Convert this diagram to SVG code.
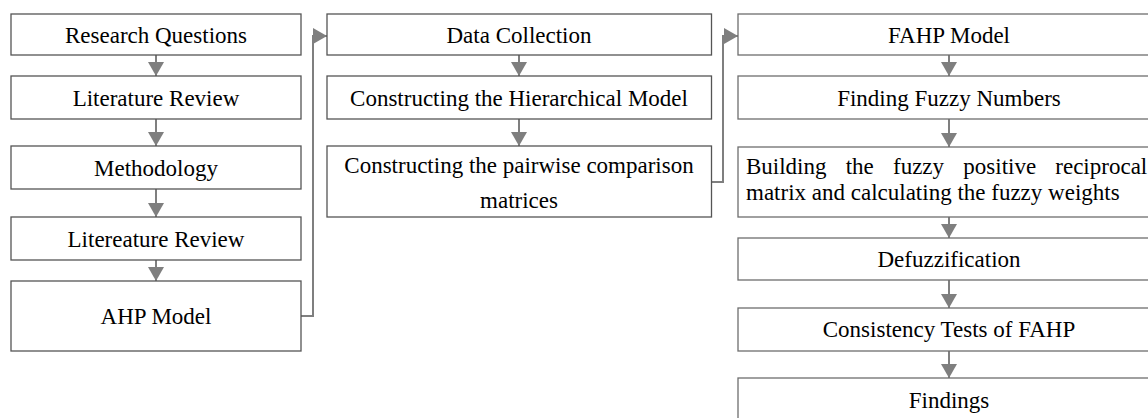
<svg xmlns="http://www.w3.org/2000/svg" width="1148" height="418" viewBox="0 0 1148 418">
<style>
  .box { fill: #ffffff; stroke: #555555; stroke-width: 1.3; }
  .box3 { fill: #ffffff; stroke: #6e6e6e; stroke-width: 1.3; }
  .t { font-family: "Liberation Serif", "Times New Roman", Times, serif; font-size: 23px; fill: #000000; text-anchor: middle; }
  .tl { font-family: "Liberation Serif", "Times New Roman", Times, serif; font-size: 23px; fill: #000000; }
  .c { fill: none; stroke: #7f7f7f; stroke-width: 2; marker-end: url(#ah); }
</style>
<defs>
  <marker id="ah" viewBox="0 0 14 16" refX="14" refY="8" markerWidth="14" markerHeight="16" markerUnits="userSpaceOnUse" orient="auto">
    <path d="M0,0 L14,8 L0,16 Z" fill="#7f7f7f"/>
  </marker>
</defs>
<rect width="1148" height="418" fill="#ffffff"/>

<g id="connectors">
  <path class="c" d="M156,55 V76"/>
  <path class="c" d="M156,119 V146"/>
  <path class="c" d="M156,189 V217"/>
  <path class="c" d="M156,260 V281"/>
  <path class="c" d="M519,55 V76"/>
  <path class="c" d="M519,119 V146"/>
  <path class="c" d="M949,55 V76"/>
  <path class="c" d="M949,119 V147"/>
  <path class="c" d="M949,217 V238"/>
  <path class="c" d="M949,280 V308"/>
  <path class="c" d="M949,351 V378"/>
  <path class="c" d="M301,316 H313 V36 H327"/>
  <path class="c" d="M711.5,182 H723 V36 H738"/>
</g>

<g id="research-questions">
  <rect class="box" x="11" y="14" width="290" height="41"/>
  <text class="t" x="156" y="43">Research Questions</text>
</g>
<g id="literature-review">
  <rect class="box" x="11" y="76" width="290" height="43"/>
  <text class="t" x="156" y="106">Literature Review</text>
</g>
<g id="methodology">
  <rect class="box" x="11" y="146" width="290" height="43"/>
  <text class="t" x="156" y="176">Methodology</text>
</g>
<g id="litereature-review">
  <rect class="box" x="11" y="217" width="290" height="43"/>
  <text class="t" x="156" y="247">Litereature Review</text>
</g>
<g id="ahp-model">
  <rect class="box" x="11" y="281" width="290" height="70"/>
  <text class="t" x="156" y="324">AHP Model</text>
</g>

<g id="data-collection">
  <rect class="box" x="327" y="14" width="384.5" height="41"/>
  <text class="t" x="519" y="43">Data Collection</text>
</g>
<g id="hierarchical-model">
  <rect class="box" x="327" y="76" width="384.5" height="43"/>
  <text class="t" x="519" y="106">Constructing the Hierarchical Model</text>
</g>
<g id="pairwise-matrices">
  <rect class="box" x="327" y="146" width="384.5" height="71"/>
  <text class="t" x="519" y="173">Constructing the pairwise comparison</text>
  <text class="t" x="519" y="208">matrices</text>
</g>

<g id="fahp-model">
  <rect class="box3" x="738" y="14" width="422" height="41"/>
  <text class="t" x="949" y="43">FAHP Model</text>
</g>
<g id="fuzzy-numbers">
  <rect class="box3" x="738" y="76" width="422" height="43"/>
  <text class="t" x="949" y="106">Finding Fuzzy Numbers</text>
</g>
<g id="reciprocal-matrix">
  <rect class="box3" x="738" y="147" width="422" height="70"/>
  <text class="tl" x="746" y="174">Building</text>
  <text class="tl" x="845.7" y="174">the</text>
  <text class="tl" x="893" y="174">fuzzy</text>
  <text class="tl" x="963.3" y="174">positive</text>
  <text class="tl" x="1055.3" y="174">reciprocal</text>
  <text class="tl" x="746" y="200">matrix and calculating the fuzzy weights</text>
</g>
<g id="defuzzification">
  <rect class="box3" x="738" y="238" width="422" height="42"/>
  <text class="t" x="949" y="267">Defuzzification</text>
</g>
<g id="consistency-tests">
  <rect class="box3" x="738" y="308" width="422" height="43"/>
  <text class="t" x="949" y="337">Consistency Tests of FAHP</text>
</g>
<g id="findings">
  <rect class="box3" x="738" y="378" width="422" height="60"/>
  <text class="t" x="949" y="408">Findings</text>
</g>
</svg>
